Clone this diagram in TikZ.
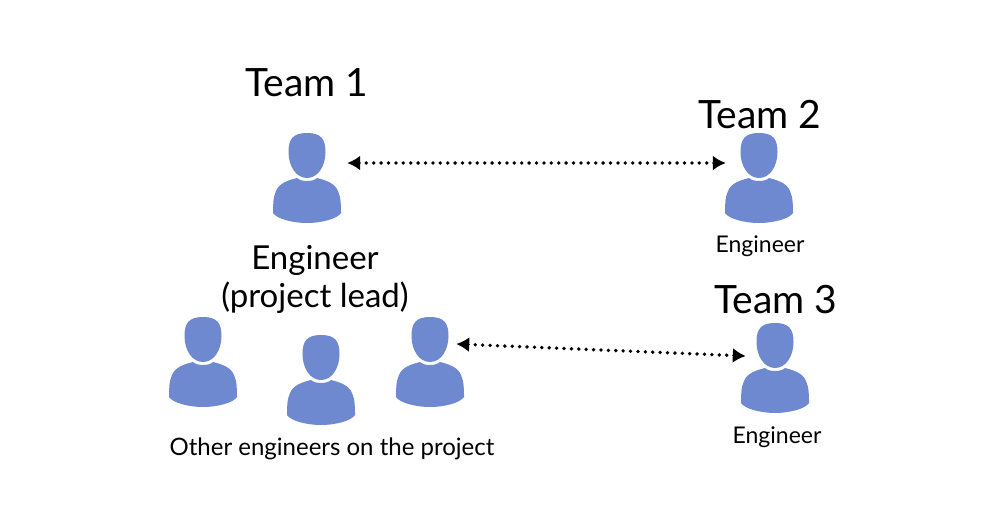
\documentclass[tikz,border=0pt]{standalone}
\usepackage{fontspec}
\setmainfont{Lato}
\usetikzlibrary{arrows.meta}
\definecolor{iconblue}{HTML}{6F89D0}
\tikzset{
  person/.style={minimum width=70pt,minimum height=92pt,inner sep=0pt,
    path picture={
      \begin{scope}[shift={(path picture bounding box.center)}]
        \fill[iconblue] (0,-45) .. controls (14,-45) and (18.5,-39) .. (18.5,-26)
          .. controls (18.5,-12) and (11,0) .. (0,0)
          .. controls (-11,0) and (-18.5,-12) .. (-18.5,-26)
          .. controls (-18.5,-39) and (-14,-45) .. (0,-45) -- cycle;
        \fill[iconblue] (-10,0) .. controls (-6,4) and (6,4) .. (10,0)
          .. controls (18,2) and (28,5) .. (31,13)
          .. controls (34,19) and (34,28) .. (34,35)
          .. controls (30,41) and (14,45) .. (0,45)
          .. controls (-14,45) and (-30,41) .. (-34,35)
          .. controls (-34,28) and (-34,19) .. (-31,13)
          .. controls (-28,5) and (-18,2) .. (-10,0) -- cycle;
      \end{scope}
    }},
  link/.style={line width=3.8pt,line cap=round,dash pattern=on 0pt off 7.4pt,
    {Latex[length=13pt,width=15pt]}-{Latex[length=13pt,width=15pt]}},
  big/.style={font=\fontsize{39}{40}\selectfont},
  mid/.style={font=\fontsize{33}{38}\selectfont,align=center},
  small/.style={font=\fontsize{23}{24}\selectfont},
  smaller/.style={font=\fontsize{24}{26}\selectfont}
}
\begin{document}
\begin{tikzpicture}[x=1pt,y=-1pt]
\useasboundingbox (0,0) rectangle (1000,512);
\node[person] (p1) at (307,178) {};
\node[person] (p2) at (759,178) {};
\node[person] (p3) at (775,368) {};
\node[person] (p4) at (203,362) {};
\node[person] (p5) at (321,380) {};
\node[person] (p6) at (430,362) {};
\node[big] (t1) at (307,83) {Team 1};
\node[big] (t2) at (760,115) {Team 2};
\node[big] (t3) at (776,300) {Team 3};
\node[mid] (lead) at (315,279) {Engineer\\(project lead)};
\node[small] (e2) at (760,246) {Engineer};
\node[small] (e3) at (777,437) {Engineer};
\node[smaller] (others) at (332,449) {Other engineers on the project};
\draw[link] ([shift={(5,-15)}]p1.east) -- ([shift={(2,-15)}]p2.west);
\draw[link] ([shift={(-9,-18)}]p6.east) -- ([shift={(6,-12)}]p3.west);
\end{tikzpicture}
\end{document}
